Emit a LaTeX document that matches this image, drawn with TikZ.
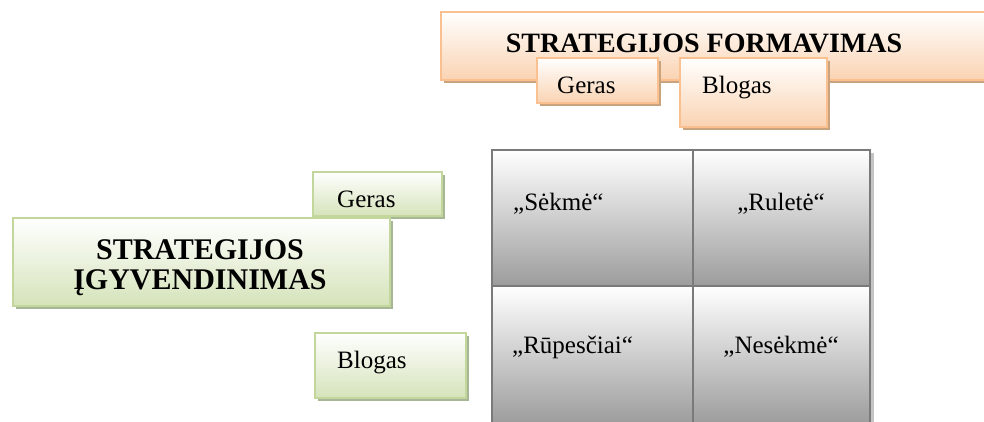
\documentclass[tikz,border=0pt]{standalone}
\usepackage{fontspec}
\setmainfont{Liberation Serif}
\usetikzlibrary{shadows}

\definecolor{orangeline}{HTML}{FAC090}
\definecolor{orangefill}{HTML}{FAD3B2}
\definecolor{orangeshade}{HTML}{C9A27E}
\definecolor{greenline}{HTML}{C3D69B}
\definecolor{greenfill}{HTML}{D5E3BA}
\definecolor{greenshade}{HTML}{A6B796}
\definecolor{grayline}{HTML}{7A7A7A}
\definecolor{grayfill}{HTML}{9C9C9C}
\definecolor{grayshade}{HTML}{C4C4C4}

\tikzset{
  orangebox/.style={draw=orangeline, line width=2pt, top color=white, bottom color=orangefill,
    drop shadow={shadow xshift=3pt, shadow yshift=-3pt, fill=orangeshade, opacity=1}},
  greenbox/.style={draw=greenline, line width=2pt, top color=white, bottom color=greenfill,
    drop shadow={shadow xshift=3pt, shadow yshift=-3pt, fill=greenshade, opacity=1}},
  cellbox/.style={draw=grayline, line width=2.5pt, top color=white, bottom color=grayfill},
  bigtext/.style={font=\fontsize{28}{30}\selectfont\bfseries, inner sep=0pt},
  smalltext/.style={font=\fontsize{25}{28}\selectfont, inner sep=0pt}
}

\begin{document}
\begin{tikzpicture}[x=1pt, y=-1pt]
\useasboundingbox (0,0) rectangle (984,421);

% strategijos formavimas
\draw[orangebox] (441,12) rectangle (1000,80);
\node[bigtext, anchor=base] (formTitle) at (704,52) {STRATEGIJOS FORMAVIMAS};
\draw[orangebox] (537,58) rectangle (658,103);
\node[smalltext, anchor=base west] (formGeras) at (557,93) {Geras};
\draw[orangebox] (680,58) rectangle (827,127);
\node[smalltext, anchor=base west] (formBlogas) at (702,93) {Blogas};

% strategijos igyvendinimas
\draw[greenbox] (313,172) rectangle (442,216);
\node[smalltext, anchor=base west] (implGeras) at (337,207) {Geras};
\draw[greenbox] (13,218) rectangle (390,306);
\node[bigtext, font=\fontsize{30}{30}\selectfont\bfseries, anchor=north, align=center]
  (implTitle) at (200,239) {STRATEGIJOS\\ĮGYVENDINIMAS};
\draw[greenbox] (315,333) rectangle (466,398);
\node[smalltext, anchor=base west] (implBlogas) at (337,368) {Blogas};

% matrica
\fill[grayshade] (870,153) rectangle (874,424);
\draw[cellbox] (492,150) rectangle (693,286);
\draw[cellbox] (693,150) rectangle (870,286);
\draw[cellbox] (492,286) rectangle (693,424);
\draw[cellbox] (693,286) rectangle (870,424);
\node[smalltext, anchor=base west] (sekme) at (513,210) {„Sėkmė“};
\node[smalltext, anchor=base] (ruleta) at (781,210) {„Ruletė“};
\node[smalltext, anchor=base west] (rupesciai) at (512,353) {„Rūpesčiai“};
\node[smalltext, anchor=base] (nesekme) at (781,353) {„Nesėkmė“};
\end{tikzpicture}
\end{document}
